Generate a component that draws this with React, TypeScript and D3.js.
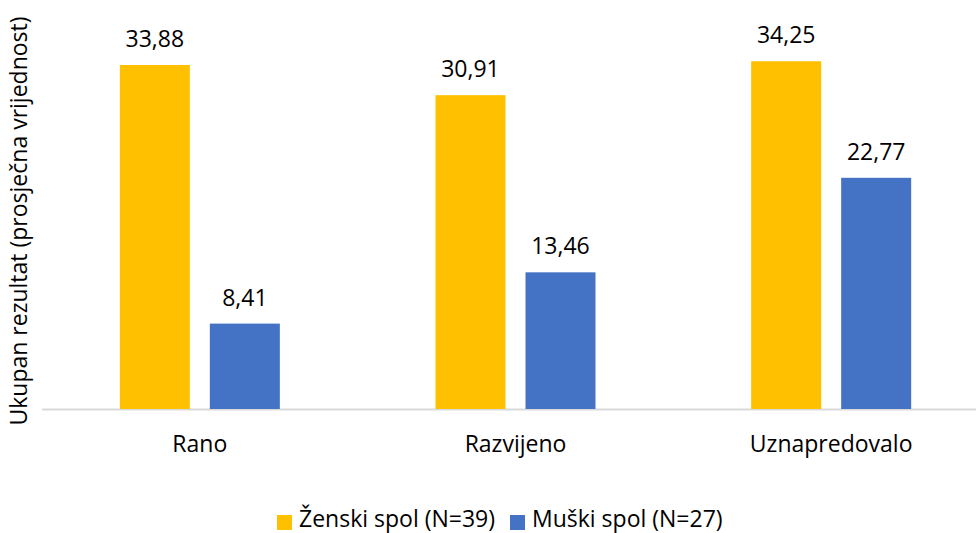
import React, { useRef, useEffect } from 'react';
import * as d3 from 'd3';

const categories = ['Rano', 'Razvijeno', 'Uznapredovalo'];
const seriesNames = ['Ženski spol (N=39)', 'Muški spol (N=27)'];
const zenskiValues = [33.88, 30.91, 34.25];
const muskiValues = [8.41, 13.46, 22.77];
const seriesColors = ['#FFC000', '#4472C4'];

const width = 976;
const height = 533;
const font = '"Open Sans", sans-serif';
const fontSize = '23px';

const App: React.FC = () => {
  const svgRef = useRef<SVGSVGElement | null>(null);

  useEffect(() => {
    const svg = d3.select(svgRef.current);
    svg.selectAll('*').remove();

    const baseline = 409;
    const x = d3.scaleBand().domain(categories).range([42, 989]).paddingInner(0).paddingOuter(0);
    const y = d3.scaleLinear().domain([0, 33.88]).range([baseline, 65]);
    const inner = d3.scaleBand().domain(seriesNames).range([-80, 80]).paddingInner(20 / 90);

    const series = [zenskiValues, muskiValues];

    // axis line
    svg.append('line')
      .attr('x1', 42).attr('x2', width)
      .attr('y1', baseline + 0.5).attr('y2', baseline + 0.5)
      .attr('stroke', '#d9d9d9').attr('stroke-width', 2);

    series.forEach((vals, si) => {
      const g = svg.append('g');
      categories.forEach((c, i) => {
        const cx = x(c)! + x.bandwidth() / 2;
        const bx = cx + inner(seriesNames[si])!;
        g.append('rect')
          .attr('x', bx)
          .attr('y', y(vals[i]))
          .attr('width', inner.bandwidth())
          .attr('height', baseline - y(vals[i]))
          .attr('fill', seriesColors[si]);
        g.append('text')
          .attr('x', bx + inner.bandwidth() / 2)
          .attr('y', y(vals[i]) - 18)
          .attr('text-anchor', 'middle')
          .style('font-family', font)
          .style('font-size', fontSize)
          .attr('fill', '#000')
          .text(vals[i].toFixed(2).replace('.', ','));
      });
    });

    // category labels
    categories.forEach((c) => {
      svg.append('text')
        .attr('x', x(c)! + x.bandwidth() / 2)
        .attr('y', 452)
        .attr('text-anchor', 'middle')
        .style('font-family', font)
        .style('font-size', fontSize)
        .attr('fill', '#000')
        .text(c);
    });

    // y axis title
    svg.append('text')
      .attr('transform', `translate(27, 221) rotate(-90)`)
      .attr('text-anchor', 'middle')
      .style('font-family', font)
      .style('font-size', fontSize)
      .attr('fill', '#000')
      .text('Ukupan rezultat (prosječna vrijednost)');

    // legend
    const legendX = [277, 510];
    seriesNames.forEach((name, i) => {
      svg.append('rect')
        .attr('x', legendX[i]).attr('y', 515)
        .attr('width', 15).attr('height', 15)
        .attr('fill', seriesColors[i]);
      svg.append('text')
        .attr('x', legendX[i] + 22)
        .attr('y', 527)
        .style('font-family', font)
        .style('font-size', fontSize)
        .attr('fill', '#000')
        .text(name);
    });
  }, []);

  return (
    <svg ref={svgRef} width={width} height={height}
      style={{ position: 'absolute', left: 0, top: 0, background: '#fff' }} />
  );
};

export default App;
